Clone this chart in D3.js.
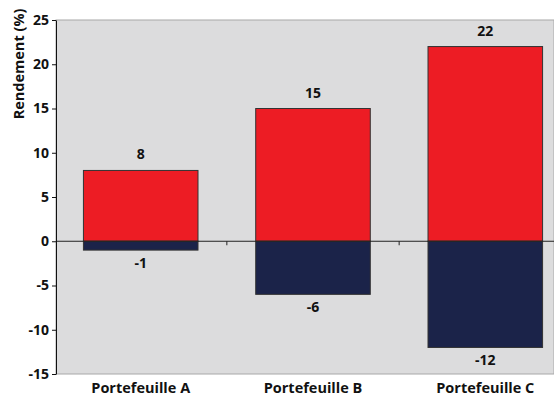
<!DOCTYPE html>
<html>
<head>
<meta charset="utf-8">
<script src="https://cdn.jsdelivr.net/npm/d3@7"></script>
<style>
  body { margin: 0; background: #fff; }
  text { font-family: 'Open Sans', sans-serif; font-weight: bold; fill: #111; }
</style>
</head>
<body>
<svg id="chart"></svg>
<script>
const categories = ['Portefeuille A', 'Portefeuille B', 'Portefeuille C']
const gains = [8, 15, 22]
const losses = [-1, -6, -12]
const yTicks = [-15, -10, -5, 0, 5, 10, 15, 20, 25]

const width = 554
const height = 398
const margin = { top: 20, right: 0, bottom: 24, left: 56 }

const fmt = d => String(d).replace('\u2212', '-')

const svg = d3.select('#chart')
  .attr('width', width)
  .attr('height', height)

const x = d3.scaleBand()
  .domain(categories)
  .range([margin.left - 1, margin.left - 1 + 3 * 172])
  .paddingInner(0.335)
  .paddingOuter(0.165)

const y = d3.scaleLinear()
  .domain([-15, 25])
  .range([height - margin.bottom, margin.top])

// plot background
svg.append('rect')
  .attr('x', margin.left)
  .attr('y', y(25))
  .attr('width', width - margin.left)
  .attr('height', y(-15) - y(25))
  .attr('fill', '#dcdcdd')
  .attr('stroke', '#a8a8a8')
  .attr('stroke-width', 1)

const data = categories.map((c, i) => ({ name: c, gain: gains[i], loss: losses[i] }))

svg.append('g')
  .selectAll('rect').data(data).enter().append('rect')
  .attr('x', d => x(d.name))
  .attr('y', d => y(d.gain))
  .attr('width', x.bandwidth())
  .attr('height', d => y(0) - y(d.gain))
  .attr('fill', '#ed1c24')
  .attr('stroke', '#333')
  .attr('stroke-width', 1)

svg.append('g')
  .selectAll('rect').data(data).enter().append('rect')
  .attr('x', d => x(d.name))
  .attr('y', y(0))
  .attr('width', x.bandwidth())
  .attr('height', d => y(d.loss) - y(0))
  .attr('fill', '#1b2349')
  .attr('stroke', '#333')
  .attr('stroke-width', 1)

// zero line with category separator ticks
svg.append('line')
  .attr('x1', margin.left).attr('x2', width)
  .attr('y1', y(0)).attr('y2', y(0))
  .attr('stroke', '#222')
  .attr('stroke-width', 1)

svg.append('g')
  .selectAll('line').data(categories.slice(1)).enter().append('line')
  .attr('x1', d => x(d) - x.step() * x.paddingInner() / 2)
  .attr('x2', d => x(d) - x.step() * x.paddingInner() / 2)
  .attr('y1', y(0)).attr('y2', y(0) + 4)
  .attr('stroke', '#222')

// value labels
svg.append('g')
  .selectAll('text').data(data).enter().append('text')
  .attr('x', d => x(d.name) + x.bandwidth() / 2)
  .attr('y', d => y(d.gain) - 11)
  .attr('text-anchor', 'middle')
  .attr('font-size', 14)
  .text(d => fmt(d.gain))

svg.append('g')
  .selectAll('text').data(data).enter().append('text')
  .attr('x', d => x(d.name) + x.bandwidth() / 2)
  .attr('y', d => y(d.loss) + 18)
  .attr('text-anchor', 'middle')
  .attr('font-size', 14)
  .text(d => fmt(d.loss))

// y axis
const yAxis = svg.append('g')
  .attr('transform', `translate(${margin.left},0)`)
  .call(d3.axisLeft(y).tickValues(yTicks).tickFormat(fmt).tickSize(4).tickSizeOuter(0).tickPadding(3))

yAxis.select('.domain').attr('stroke', '#111')
yAxis.selectAll('.tick line').attr('stroke', '#111')
yAxis.selectAll('.tick text')
  .attr('font-size', 14)
  .attr('font-family', "'Open Sans', sans-serif")
  .attr('font-weight', 'bold')
  .attr('fill', '#111')

// x axis labels
svg.append('g')
  .selectAll('text').data(categories).enter().append('text')
  .attr('x', d => x(d) + x.bandwidth() / 2)
  .attr('y', y(-15) + 19)
  .attr('text-anchor', 'middle')
  .attr('font-size', 14.5)
  .text(d => d)

// y axis title
svg.append('text')
  .attr('transform', 'translate(24,64) rotate(-90)')
  .attr('text-anchor', 'middle')
  .attr('font-size', 14.5)
  .text('Rendement (%)')
</script>
</body>
</html>
